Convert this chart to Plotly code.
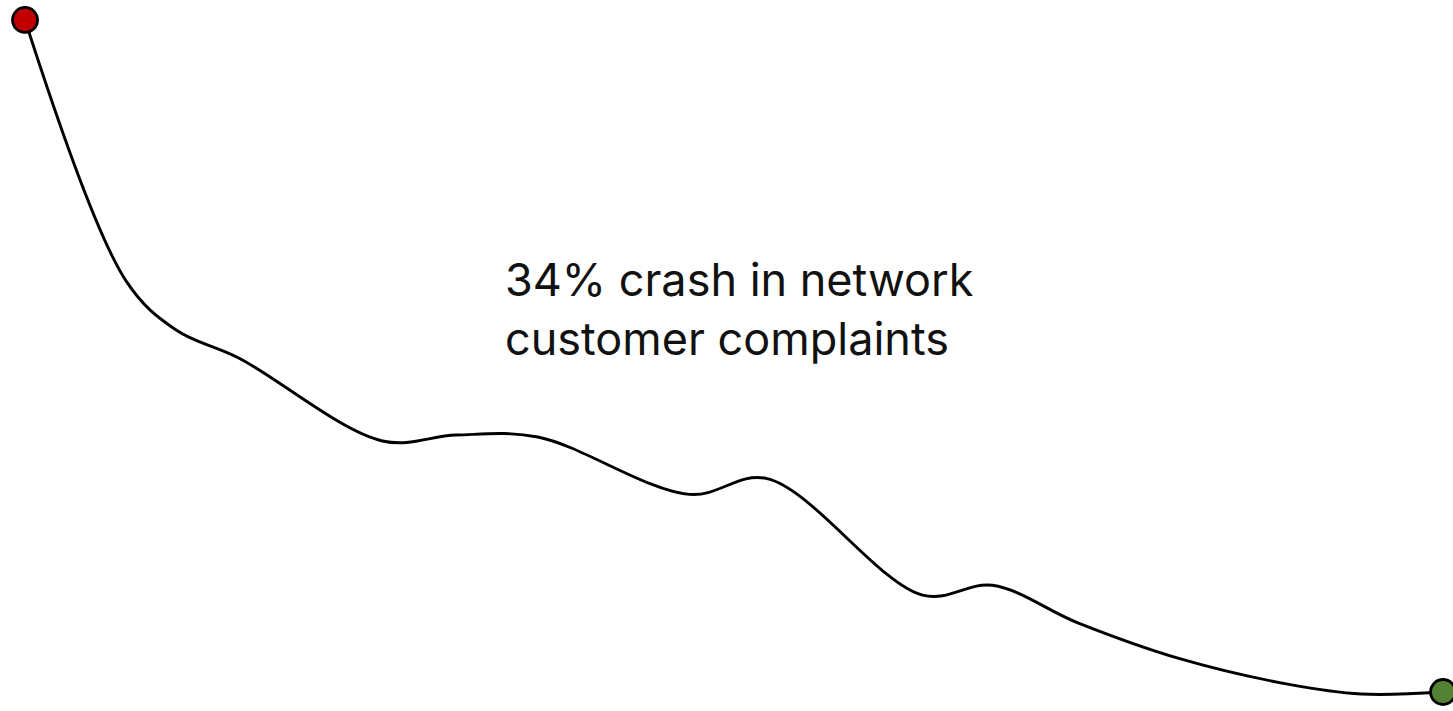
import plotly.graph_objects as go

# Day of year and complaint index (start of year = 100)
days = [0, 26, 39, 55, 92, 111, 132, 171, 191, 231, 249, 271, 297, 325, 344, 365]
complaints_index = [100.0, 86.8, 84.3, 82.9, 78.7, 79.0, 78.9, 76.0,
                    76.8, 70.9, 71.4, 69.5, 67.7, 66.4, 65.9, 66.0]

headline = "34% crash in network<br>customer complaints"
start_color = "#c00000"
end_color = "#548235"

fig = go.Figure()

fig.add_trace(go.Scatter(
    x=days,
    y=complaints_index,
    mode="lines",
    line=dict(color="#000000", width=2.9, shape="spline", smoothing=1.0),
    hoverinfo="skip",
    showlegend=False,
))

fig.add_trace(go.Scatter(
    x=[days[0], days[-1]],
    y=[complaints_index[0], complaints_index[-1]],
    mode="markers",
    marker=dict(size=25, color=[start_color, end_color],
                line=dict(color="#000000", width=2.8)),
    cliponaxis=False,
    hoverinfo="skip",
    showlegend=False,
))

fig.add_annotation(
    text=headline,
    xref="paper", yref="paper",
    x=503 / 1453, y=1 - 250 / 711,
    xanchor="left", yanchor="top",
    align="left",
    showarrow=False,
    font=dict(family="Inter, Roboto, sans-serif", size=45, color="#111111"),
)

fig.update_xaxes(visible=False, range=[-6.44, 367.57], fixedrange=True)
fig.update_yaxes(visible=False, range=[65.04, 101.01], fixedrange=True)

fig.update_layout(
    width=1453,
    height=711,
    margin=dict(l=0, r=0, t=0, b=0),
    paper_bgcolor="#ffffff",
    plot_bgcolor="#ffffff",
)

fig.write_html("out.html", config={"displayModeBar": False})
